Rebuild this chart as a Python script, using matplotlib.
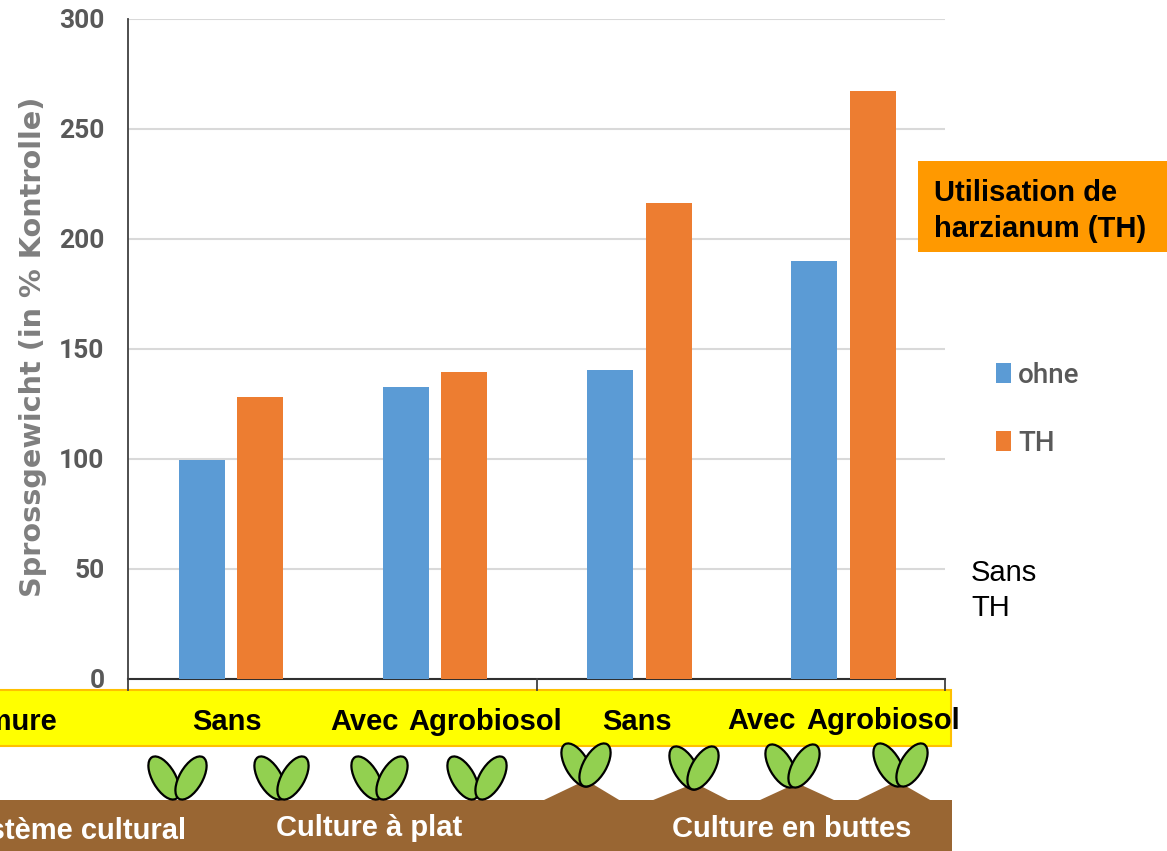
import matplotlib
matplotlib.use("Agg")
import matplotlib.pyplot as plt
from matplotlib.patches import Ellipse, Polygon, Rectangle

# values
groups = ["Sans", "Avec Agrobiosol", "Sans", "Avec Agrobiosol"]
ohne = [99.5, 132.7, 140.5, 190]
th = [128, 139.5, 216.5, 267.5]
yticks = [0, 50, 100, 150, 200, 250, 300]

BLUE = "#5B9BD5"
ORANGE = "#ED7D31"
W, H = 1167, 851

# plants: left leaf x, right leaf x, leaf y (overlay pixels)
plants = [(164, 191, 778), (270, 293, 778), (367, 392, 778), (463, 491, 778),
          (577, 595, 765), (685, 703, 768), (781, 804, 766), (889, 912, 765)]
# mounds under the raised plants: left, top x, top y, right
mounds = [(543, 586, 780, 620), (652, 695, 783, 729),
          (759, 797, 783, 835), (857, 897, 781, 931)]

fig = plt.figure(figsize=(W / 100, H / 100), dpi=100)
ax = fig.add_axes([128 / W, 1 - 679 / H, 817 / W, 660 / H])

x = list(range(len(groups)))
ax.bar([i - 0.14 for i in x], ohne, 0.225, color=BLUE, label="ohne", zorder=3)
ax.bar([i + 0.147 for i in x], th, 0.225, color=ORANGE, label="TH", zorder=3)

ax.set_xlim(-0.5, 3.5)
ax.set_ylim(0, 300)
ax.set_yticks(yticks)
ax.set_xticks([])
ax.grid(axis="y", color="#D9D9D9", lw=1.5, zorder=0)
ax.tick_params(axis="y", length=0, pad=17)
for lab in ax.get_yticklabels():
    lab.set_family("Roboto")
    lab.set_weight("bold")
    lab.set_size(19)
    lab.set_color("#595959")
for s in ["top", "right"]:
    ax.spines[s].set_visible(False)
ax.spines["left"].set_color("#404040")
ax.spines["bottom"].set_color("#303030")
ax.spines["left"].set_linewidth(1.3)
ax.spines["bottom"].set_linewidth(1.5)

fig.text(33 / W, 1 - 347 / H, "Sprossgewicht (in % Kontrolle)", rotation=90, ha="center",
         va="center", fontsize=20.7, fontweight="bold", color="#7F7F7F", family="DejaVu Sans")

leg = ax.legend(loc="upper left", bbox_to_anchor=((971 - 128) / 817, (679 - 337) / 660),
                frameon=False, handlelength=0.54, handleheight=0.72, handletextpad=0.25,
                labelspacing=1.47, prop={"family": "Roboto", "size": 20, "weight": "medium"})
for t in leg.get_texts():
    t.set_color("#595959")

# overlay in pixel coordinates for the boxes and plant drawings
ov = fig.add_axes([0, 0, 1, 1], zorder=5)
ov.set_xlim(0, W)
ov.set_ylim(H, 0)
ov.axis("off")
ov.patch.set_alpha(0)

for xt in [128, 537, 945]:
    ov.plot([xt, xt], [679, 690], color="#404040", lw=1.3)

ov.add_patch(Rectangle((-5, 690), 956, 56, fc="#FFFF00", ec="#FFC000", lw=1.5))
ov.add_patch(Rectangle((0, 800), 952, 51, fc="#996633", ec="none"))
for l, tx, ty, r in mounds:
    ov.add_patch(Polygon([(l, 800.5), (tx, ty), (r, 800.5)], fc="#996633", ec="none"))
ov.add_patch(Rectangle((918, 161), 249, 91, fc="#FF9900", ec="none"))

for lx, rx, ly in plants:
    ov.add_patch(Ellipse((lx, ly), 48, 23, angle=60, fc="#92D050", ec="black", lw=1.6))
    ov.add_patch(Ellipse((rx, ly), 48, 23, angle=120, fc="#92D050", ec="black", lw=1.6))

arial = dict(family="Liberation Sans", va="center")
bold = dict(fontsize=21, fontweight="bold", **arial)
ov.text(57, 722, "Fumure", ha="right", color="black", **bold)
ov.text(227, 722, "Sans", ha="center", color="black", **bold)
ov.text(330, 722, "Avec", ha="left", color="black", **bold)
ov.text(408, 722, "Agrobiosol", ha="left", color="black", **bold)
ov.text(637, 722, "Sans", ha="center", color="black", **bold)
ov.text(727, 721, "Avec", ha="left", color="black", **bold)
ov.text(806, 721, "Agrobiosol", ha="left", color="black", **bold)
ov.text(186, 831, "Système cultural", ha="right", color="white", **bold)
ov.text(369, 828, "Culture à plat", ha="center", color="white", **bold)
ov.text(792, 829, "Culture en buttes", ha="center", color="white", **bold)
ov.text(934, 193, "Utilisation de", ha="left", color="black", **bold)
ov.text(934, 229, "harzianum (TH)", ha="left", color="black", **bold)
ov.text(971, 573, "Sans", ha="left", color="black", fontsize=21, **arial)
ov.text(971, 608, "TH", ha="left", color="black", fontsize=21, **arial)

fig.savefig("out.png", dpi=100)
